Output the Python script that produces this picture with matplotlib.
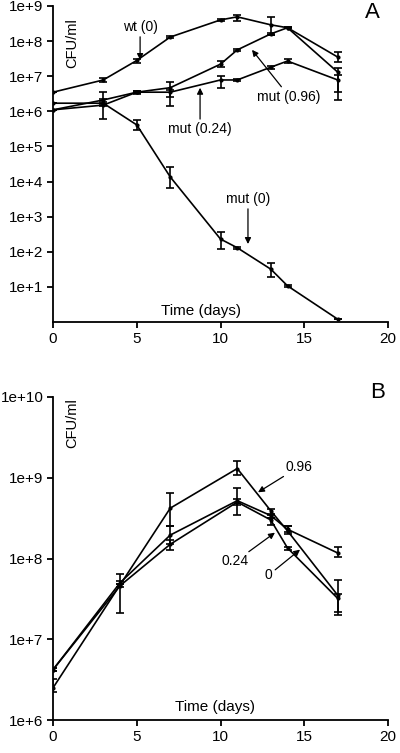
import numpy as np
import matplotlib
matplotlib.use("Agg")
import matplotlib.pyplot as plt

plt.rcParams['font.family'] = ['Liberation Sans', 'DejaVu Sans']

# === Panel A data (CFU/ml) ===
days_a = [0, 3, 5, 7, 10, 11, 13, 14, 17]
wt0 = [3.5e6, 7.8e6, 2.8e7, 1.3e8, 4.0e8, 4.9e8, 2.9e8, 2.4e8, 3.5e7]
wt0_lo = [3.5e6, 6.9e6, 2.4e7, 1.25e8, 3.8e8, 3.8e8, 1.5e8, 2.3e8, 2.6e7]
wt0_hi = [3.5e6, 8.9e6, 3.1e7, 1.35e8, 4.3e8, 5.6e8, 4.9e8, 2.5e8, 4.9e7]

mut096 = [1.1e6, 2.1e6, 3.5e6, 4.7e6, 2.2e7, 5.6e7, 1.6e8, 2.4e8, 1.3e7]
mut096_lo = [1.1e6, 1.9e6, 3.2e6, 2.6e6, 1.8e7, 5.3e7, 1.5e8, 2.3e8, 3.6e6]
mut096_hi = [1.1e6, 2.3e6, 3.8e6, 6.9e6, 2.7e7, 5.9e7, 1.7e8, 2.5e8, 1.7e7]

mut024 = [1.1e6, 1.5e6, 3.5e6, 3.5e6, 7.8e6, 7.8e6, 1.8e7, 2.7e7, 7.8e6]
mut024_lo = [1.1e6, 1.4e6, 3.3e6, 1.4e6, 4.7e6, 7.4e6, 1.6e7, 2.4e7, 2.1e6]
mut024_hi = [1.1e6, 1.6e6, 3.7e6, 4.1e6, 1.0e7, 8.2e6, 2.0e7, 3.1e7, 1.1e7]

mut0 = [1.7e6, 1.7e6, 4.1e5, 1.35e4, 230, 130, 32, 10.7, 1.2]
mut0_lo = [1.7e6, 6.0e5, 3.0e5, 6.6e3, 120, 120, 19, 10, 1.2]
mut0_hi = [1.7e6, 3.5e6, 5.7e5, 2.6e4, 365, 140, 48, 11.5, 1.2]

# === Panel B data (CFU/ml) ===
days_b = [0, 4, 7, 11, 13, 14, 17]
b096 = [2.5e6, 4.7e7, 4.2e8, 1.3e9, 3.9e8, 2.2e8, 3.5e7]
b096_lo = [2.2e6, 2.1e7, 2.5e8, 1.07e9, 3.5e8, 2.0e8, 2.2e7]
b096_hi = [3.2e6, 6.5e7, 6.5e8, 1.6e9, 4.1e8, 2.5e8, 5.4e7]

b024 = [4.2e6, 5.0e7, 1.95e8, 5.2e8, 3.4e8, 2.3e8, 1.17e8]
b024_lo = [4.0e6, 4.8e7, 1.5e8, 3.5e8, 3.2e8, 2.1e8, 1.05e8]
b024_hi = [4.4e6, 5.3e7, 2.5e8, 7.4e8, 3.6e8, 2.5e8, 1.4e8]

b0 = [4.2e6, 4.6e7, 1.5e8, 5.0e8, 3.0e8, 1.35e8, 3.2e7]
b0_lo = [4.0e6, 4.4e7, 1.26e8, 4.6e8, 2.6e8, 1.26e8, 2.0e7]
b0_hi = [4.4e6, 4.8e7, 1.7e8, 5.4e8, 3.2e8, 1.4e8, 3.6e7]

xticks = [0, 5, 10, 15, 20]
yticks_a = [1e1, 1e2, 1e3, 1e4, 1e5, 1e6, 1e7, 1e8, 1e9]
ylabels_a = ["1e+1", "1e+2", "1e+3", "1e+4", "1e+5", "1e+6", "1e+7", "1e+8", "1e+9"]
yticks_b = [1e6, 1e7, 1e8, 1e9, 1e10]
ylabels_b = ["1e+6", "1e+7", "1e+8", "1e+9", "1e+10"]

fig = plt.figure(figsize=(4.0, 7.53), dpi=100)
ax1 = fig.add_axes([0.1325, 0.5724, 0.8375, 0.4197])
ax2 = fig.add_axes([0.1325, 0.0438, 0.8375, 0.4290])


def draw_series(ax, x, y, lo, hi):
    y = np.array(y)
    yerr = [y - np.array(lo), np.array(hi) - y]
    ax.errorbar(x, y, yerr=yerr, color="k", lw=1.2, elinewidth=1.2,
                capsize=3, capthick=1.2, marker="o", ms=2)


def style_axes(ax, yticks, ylabels, ylim):
    ax.set_yscale("log")
    ax.set_xlim(0, 20)
    ax.set_ylim(*ylim)
    ax.set_xticks(xticks)
    ax.set_xticklabels([str(v) for v in xticks])
    ax.set_yticks(yticks)
    ax.set_yticklabels(ylabels)
    ax.yaxis.set_minor_locator(matplotlib.ticker.NullLocator())
    for s in ["top", "right"]:
        ax.spines[s].set_visible(False)
    for s in ["left", "bottom"]:
        ax.spines[s].set_linewidth(1.3)
    ax.tick_params(direction="out", length=4, width=1.3, labelsize=11, pad=3)


# --- Panel A ---
draw_series(ax1, days_a, wt0, wt0_lo, wt0_hi)
draw_series(ax1, days_a, mut096, mut096_lo, mut096_hi)
draw_series(ax1, days_a, mut024, mut024_lo, mut024_hi)
draw_series(ax1, days_a, mut0, mut0_lo, mut0_hi)
style_axes(ax1, yticks_a, ylabels_a, (1, 1e9))

arrow = dict(arrowstyle="-|>", lw=0.9, color="k", mutation_scale=9, shrinkA=0, shrinkB=0)
fs = 10
ax1.annotate("wt (0)", xy=(5.2, 10**7.46), xytext=(5.2, 10**8.2), fontsize=fs,
             ha="center", va="bottom", arrowprops=arrow)
ax1.annotate("mut (0.24)", xy=(8.78, 10**6.67), xytext=(8.78, 10**5.7), fontsize=fs,
             ha="center", va="top", arrowprops=arrow)
ax1.annotate("mut (0.96)", xy=(11.88, 10**7.75), xytext=(14.1, 10**6.62), fontsize=fs,
             ha="center", va="top", arrowprops=arrow)
ax1.annotate("mut (0)", xy=(11.64, 10**2.22), xytext=(11.64, 10**3.3), fontsize=fs,
             ha="center", va="bottom", arrowprops=arrow)
ax1.text(8.84, 10**0.12, "Time (days)", fontsize=11, ha="center", va="bottom")
ax1.text(1.13, 10**7.95, "CFU/ml", fontsize=10.5, rotation=90, ha="center", va="center")
fig.text(0.93, 0.984, "A", fontsize=16, ha="center", va="center")

# --- Panel B ---
draw_series(ax2, days_b, b096, b096_lo, b096_hi)
draw_series(ax2, days_b, b024, b024_lo, b024_hi)
draw_series(ax2, days_b, b0, b0_lo, b0_hi)
style_axes(ax2, yticks_b, ylabels_b, (1e6, 1e10))

ax2.annotate("0.96", xy=(12.24, 10**8.82), xytext=(13.9, 10**9.05), fontsize=fs,
             ha="left", va="bottom", arrowprops=arrow)
ax2.annotate("0.24", xy=(13.25, 10**8.32), xytext=(11.7, 10**8.05), fontsize=fs,
             ha="right", va="top", arrowprops=arrow)
ax2.annotate("0", xy=(14.75, 10**8.11), xytext=(13.1, 10**7.88), fontsize=fs,
             ha="right", va="top", arrowprops=arrow)
ax2.text(9.67, 10**6.08, "Time (days)", fontsize=11, ha="center", va="bottom")
ax2.text(1.13, 10**9.68, "CFU/ml", fontsize=10.5, rotation=90, ha="center", va="center")
fig.text(0.945, 0.479, "B", fontsize=16, ha="center", va="center")

fig.savefig("out.png", dpi=100)
